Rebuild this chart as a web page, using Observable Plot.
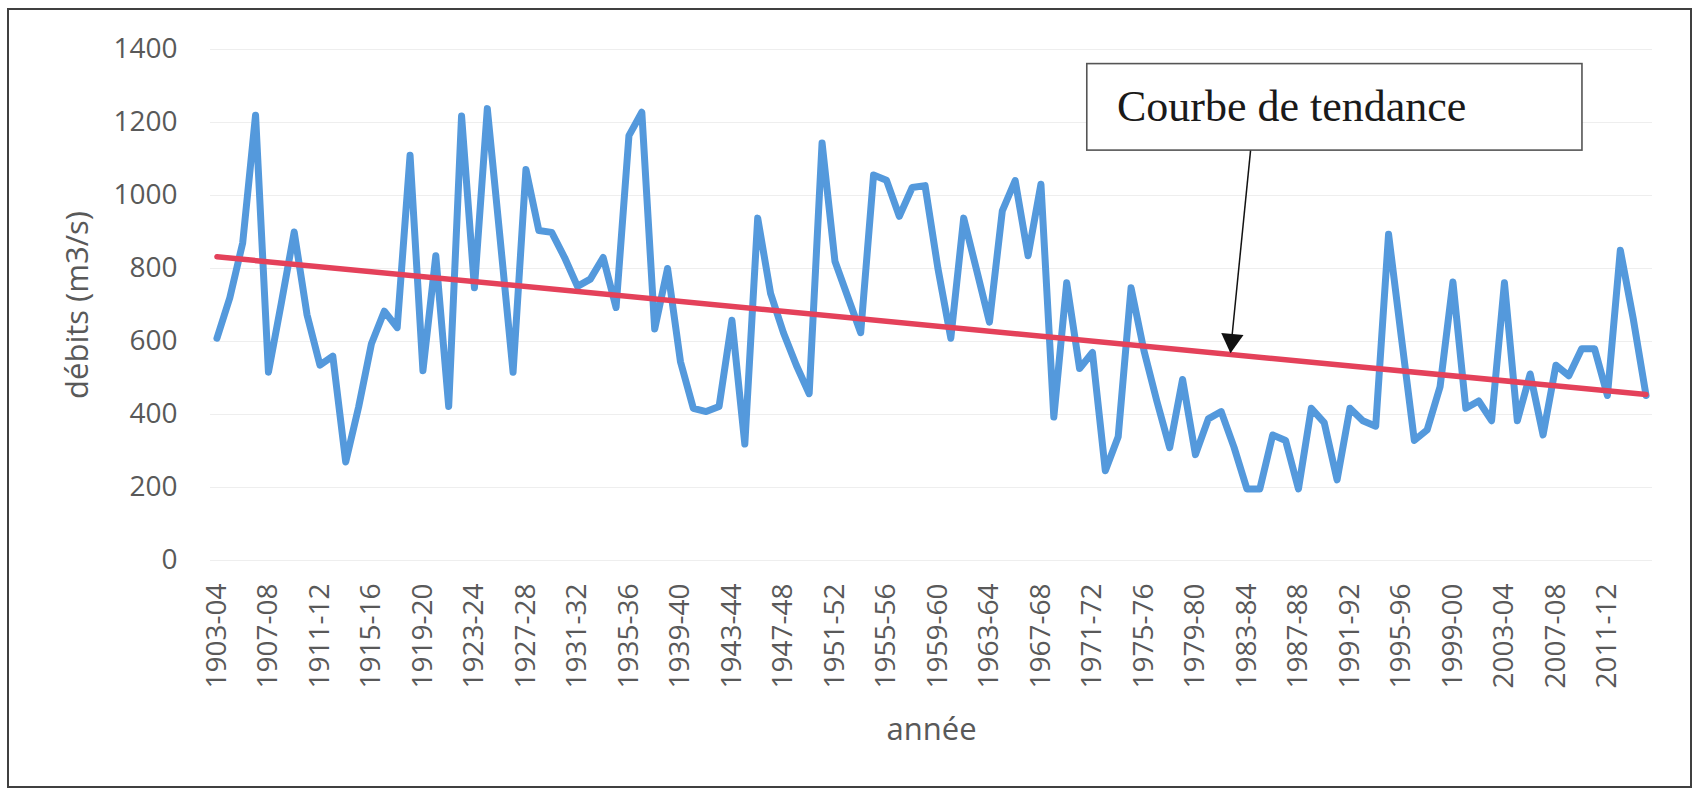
<!DOCTYPE html>
<html>
<head>
<meta charset="utf-8">
<script src="https://cdn.jsdelivr.net/npm/d3@7"></script>
<script src="https://cdn.jsdelivr.net/npm/@observablehq/plot@0.6"></script>
<style>
  html, body { margin: 0; padding: 0; background: #fff; }
  #wrap { position: relative; width: 1698px; height: 791px; }
  #border { position: absolute; left: 7px; top: 8px; width: 1685px; height: 780px; border: 2px solid #404040; box-sizing: border-box; pointer-events: none; }
  #wrap svg { position: absolute; left: 0; top: 0; }
</style>
</head>
<body>
<div id="wrap"><div id="border"></div></div>
<script>
// Hydrological years (season start year), 1903-04 … 2014-15
const seasonStart = d3.range(1903, 2015);

// Mean annual discharge (m3/s)
const flows = [
  609, 720, 870, 1220, 516, 705, 900, 673, 535, 560,   // 1903-1912
  270, 420, 594, 683, 638, 1110, 520, 835, 422, 1218,  // 1913-1922
  747, 1238, 880, 516, 1071, 904, 899, 830, 751, 771,  // 1923-1932
  830, 693, 1164, 1228, 634, 800, 545, 417, 408, 422,  // 1933-1942
  658, 319, 938, 732, 624, 535, 457, 1144, 820, 722,   // 1943-1952
  624, 1056, 1042, 943, 1022, 1027, 800, 609, 938, 796,// 1953-1962
  653, 958, 1041, 835, 1031, 393, 761, 526, 570, 246,  // 1963-1972
  339, 747, 575, 437, 309, 496, 290, 388, 408, 310,    // 1973-1982
  196, 196, 344, 329, 196, 417, 378, 221, 417, 383,    // 1983-1992
  368, 894, 610, 329, 358, 476, 763, 417, 437, 383,    // 1993-2002
  761, 383, 511, 344, 535, 506, 580, 580, 452, 850,    // 2003-2012
  663, 452                                             // 2013-2014
];

// Linear trend line ("Courbe de tendance") end points
const trendStart = [1903, 2014];
const trendValues = [832, 455];

// Axis ticks
const xTickLabels = ["1903-04","1907-08","1911-12","1915-16","1919-20","1923-24","1927-28",
  "1931-32","1935-36","1939-40","1943-44","1947-48","1951-52","1955-56","1959-60","1963-64",
  "1967-68","1971-72","1975-76","1979-80","1983-84","1987-88","1991-92","1995-96","1999-00",
  "2003-04","2007-08","2011-12"];
const yTicks = [0, 200, 400, 600, 800, 1000, 1200, 1400];

// Callout annotation (data units: season start year, m3/s)
const calloutLabel = ["Courbe de tendance"];
const calloutBoxX = [1970.6, 2009.06];
const calloutBoxY = [1123, 1360];
const calloutTextX = [1972.9];
const calloutArrowFrom = [1983.28, 1123];
const calloutArrowTo = [1981.72, 572];
const calloutHead = [1981.82, 603];

const data = seasonStart.map((s, i) => ({year: s, flow: flows[i]}));
const trend = trendStart.map((s, i) => ({year: s, flow: trendValues[i]}));
const tickYears = xTickLabels.map(l => +l.slice(0, 4));
const tickLabelOf = new Map(xTickLabels.map((l, i) => [tickYears[i], l]));

const chart = Plot.plot({
  width: 1698,
  height: 791,
  marginLeft: 210,
  marginRight: 46,
  marginTop: 49,
  marginBottom: 231,
  style: {fontFamily: "'Open Sans', sans-serif", color: "#595959", background: "transparent"},
  x: {type: "linear", domain: [1902.5, 2014.5], axis: null},
  y: {domain: [0, 1400], axis: null},
  marks: [
    Plot.ruleY(yTicks, {stroke: "#eeeeee", strokeWidth: 1}),
    Plot.axisY({ticks: yTicks, tickSize: 0, tickPadding: 33, fontSize: 28, label: null, tickFormat: d => String(d)}),
    Plot.axisX({ticks: tickYears, tickFormat: d => tickLabelOf.get(d), tickRotate: -90,
      tickSize: 0, tickPadding: 23, fontSize: 28, label: null}),
    Plot.text(["débits (m3/s)"], {frameAnchor: "left", dx: -132, rotate: -90, fontSize: 31,
      textAnchor: "middle", lineAnchor: "middle", fill: "#595959"}),
    Plot.text(["année"], {frameAnchor: "bottom", dy: 170, fontSize: 31,
      textAnchor: "middle", lineAnchor: "middle", fill: "#595959"}),
    Plot.line(data, {x: "year", y: "flow", stroke: "#5499dc", strokeWidth: 7,
      strokeLinejoin: "round", strokeLinecap: "round"}),
    Plot.line(trend, {x: "year", y: "flow", stroke: "#e4415a", strokeWidth: 5.5}),
    Plot.rect(calloutLabel, {x1: () => calloutBoxX[0], x2: () => calloutBoxX[1],
      y1: () => calloutBoxY[0], y2: () => calloutBoxY[1],
      fill: "white", stroke: "#555", strokeWidth: 1.6}),
    Plot.text(calloutLabel, {x: () => calloutTextX[0], y: () => (calloutBoxY[0] + calloutBoxY[1]) / 2,
      text: d => d, textAnchor: "start", lineAnchor: "middle",
      fontFamily: "'Liberation Serif', 'Times New Roman', serif", fontSize: 44, fill: "#1a1a1a"}),
    Plot.link(calloutLabel, {x1: () => calloutArrowFrom[0], y1: () => calloutArrowFrom[1],
      x2: () => calloutArrowTo[0], y2: () => calloutArrowTo[1], stroke: "#111", strokeWidth: 1.5}),
    Plot.dot(calloutLabel, {x: () => calloutHead[0], y: () => calloutHead[1], symbol: "triangle",
      r: 8.3, rotate: 185.6, fill: "#111", stroke: "none"})
  ]
});
document.getElementById("wrap").appendChild(chart);
</script>
</body>
</html>
